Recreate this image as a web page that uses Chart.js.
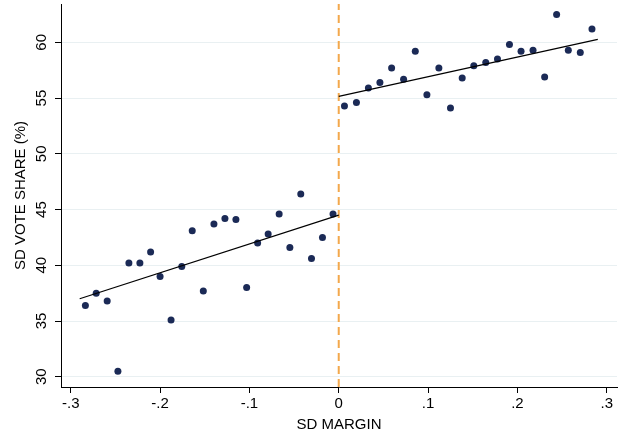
<!DOCTYPE html>
<html>
<head>
<meta charset="utf-8">
<script src="https://cdn.jsdelivr.net/npm/chart.js@4.4.1/dist/chart.umd.min.js"></script>
<style>
  html, body { margin: 0; padding: 0; background: #fff; }
  #wrap { width: 618px; height: 435px; }
</style>
</head>
<body>
<div id="wrap"><canvas id="rdChart" width="618" height="435"></canvas></div>
<script>
// binned SD margin (left of cutoff) and mean SD vote share
const marginLeft = [-0.2836, -0.2715, -0.2592, -0.2472, -0.2349, -0.2226, -0.2106, -0.2000,
  -0.1877, -0.1757, -0.1640, -0.1516, -0.1397, -0.1274, -0.1151, -0.1031,
  -0.0908, -0.0790, -0.0667, -0.0547, -0.0425, -0.0305, -0.0182, -0.0064];
const shareLeft = [36.4, 37.5, 36.8, 30.5, 40.2, 40.2, 41.2, 39.0,
  35.1, 39.9, 43.1, 37.7, 43.7, 44.2, 44.1, 38.0,
  42.0, 42.8, 44.6, 41.6, 46.4, 40.6, 42.5, 44.6];

// binned SD margin (right of cutoff)
const marginRight = [0.0064, 0.0198, 0.0332, 0.0461, 0.0592, 0.0726, 0.0857, 0.0987,
  0.1121, 0.1251, 0.1382, 0.1512, 0.1646, 0.1777, 0.1911, 0.2041,
  0.2175, 0.2305, 0.2439, 0.2570, 0.2704, 0.2835];
const shareRight = [54.3, 54.6, 55.9, 56.4, 57.7, 56.7, 59.2, 55.3,
  57.7, 54.1, 56.8, 57.9, 58.2, 58.5, 59.8, 59.2,
  59.3, 56.9, 62.5, 59.3, 59.1, 61.2];

// linear fits on each side
const fitLeftX = [-0.29, 0];
const fitLeftY = [37.0, 44.5];
const fitRightX = [0, 0.29];
const fitRightY = [55.15, 60.27];

// axis ranges and ticks
const xMin = -0.3109, xMax = 0.3115;
const yMin = 29.08, yMax = 63.44;
const xTicks = [-0.3, -0.2, -0.1, 0, 0.1, 0.2, 0.3];
const yTicks = [30, 35, 40, 45, 50, 55, 60];

// cutoff line at zero margin
const cutoffX = [0, 0];
const cutoffY = [yMin, yMax];

const zip = (xs, ys) => xs.map((x, i) => ({ x: x, y: ys[i] }));
const fmtX = v => {
  const r = Math.round(v * 10) / 10;
  if (r === 0) return "0";
  return (r < 0 ? "-" : "") + String(Math.abs(r)).replace(/^0/, "");
};

const dotColor = "#1b2a56";
const font = { family: "'Liberation Sans', Arial, sans-serif", size: 15 };

new Chart(document.getElementById("rdChart"), {
  type: "scatter",
  data: {
    datasets: [
      {
        data: zip(fitLeftX, fitLeftY), showLine: true, borderColor: "#000", borderWidth: 1.2,
        pointRadius: 0, order: 0
      },
      {
        data: zip(fitRightX, fitRightY), showLine: true, borderColor: "#000", borderWidth: 1.2,
        pointRadius: 0, order: 0
      },
      {
        data: zip(marginLeft, shareLeft), pointRadius: 3.5, pointBackgroundColor: dotColor,
        pointBorderColor: dotColor, pointBorderWidth: 0, order: 1
      },
      {
        data: zip(marginRight, shareRight), pointRadius: 3.5, pointBackgroundColor: dotColor,
        pointBorderColor: dotColor, pointBorderWidth: 0, order: 1
      },
      {
        data: zip(cutoffX, cutoffY), showLine: true, borderColor: "#f3a84c", borderWidth: 2,
        borderDash: [8, 5], pointRadius: 0, order: 2
      }
    ]
  },
  options: {
    responsive: false,
    animation: false,
    layout: { autoPadding: false, padding: { top: 4, right: 1, left: 0, bottom: 0 } },
    plugins: { legend: { display: false }, tooltip: { enabled: false } },
    scales: {
      x: {
        type: "linear",
        min: xMin,
        max: xMax,
        afterBuildTicks: s => { s.ticks = xTicks.map(v => ({ value: v })); },
        afterFit: s => { s.height = 48; s.paddingLeft = 0; s.paddingRight = 0; },
        grid: { display: true, drawOnChartArea: false, drawTicks: true, tickLength: 6, tickColor: "#000" },
        border: { display: true, color: "#000", width: 1 },
        ticks: { color: "#000", font: font, padding: 2, maxRotation: 0, callback: v => fmtX(v) },
        title: { display: true, text: "SD MARGIN", color: "#000", font: font, padding: { top: 0, bottom: 1 } }
      },
      y: {
        type: "linear",
        min: yMin,
        max: yMax,
        afterBuildTicks: s => { s.ticks = yTicks.map(v => ({ value: v })); },
        afterFit: s => { s.width = 61; s.paddingTop = 0; s.paddingBottom = 0; },
        grid: { display: true, drawOnChartArea: true, color: "#e9f0f2", lineWidth: 1, drawTicks: true, tickLength: 6, tickColor: "#000" },
        border: { display: true, color: "#000", width: 1 },
        ticks: { color: "#000", font: font, padding: 5, minRotation: 90, maxRotation: 90, crossAlign: "center" },
        title: { display: true, text: "SD VOTE SHARE (%)", color: "#000", font: font, padding: { top: 12, bottom: 0 } }
      }
    }
  }
});
</script>
</body>
</html>
